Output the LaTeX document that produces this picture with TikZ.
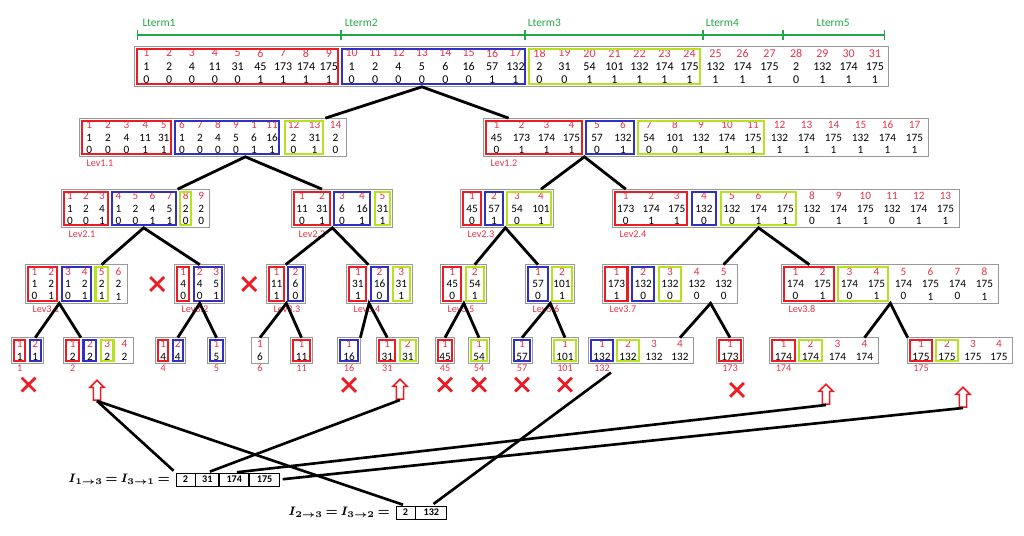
\documentclass[tikz,border=0pt]{standalone}
\usepackage{amsmath}
\usepackage{fontspec}
\setmainfont{Carlito}
\usepackage{tikz}
\usetikzlibrary{positioning,fit,shapes.arrows,shapes.misc,arrows.meta}

\definecolor{idxred}{RGB}{232,50,72}
\definecolor{boxred}{RGB}{236,28,36}
\definecolor{boxblue}{RGB}{48,48,196}
\definecolor{boxgreen}{RGB}{182,226,30}
\definecolor{termgreen}{RGB}{34,168,72}

% columns of a table: prefix, first column, left x, centre y, column width, idx/val/bit
\newcommand{\tcols}[6]{%
  \foreach \ix/\vl/\bt [count=\k from #2] in {#6}
    \node[tcell, minimum width=#5*0.02cm] (#1-\k) at ({#3+(\k-#2+0.5)*#5},#4)
      {{\color{idxred}\ix}\\\vl\\\bt};}
% columns of a leaf: idx/val only
\newcommand{\lcols}[6]{%
  \foreach \ix/\vl [count=\k from #2] in {#6}
    \node[lcell, minimum width=#5*0.02cm] (#1-\k) at ({#3+(\k-#2+0.5)*#5},#4)
      {{\color{idxred}\ix}\\\vl};}

\begin{document}
\begin{tikzpicture}[
  x=0.02cm, y=-0.02cm,
  tcell/.style={inner sep=0pt, minimum height=0.76cm, align=center, font=\fontsize{6.4}{7}\selectfont},
  lcell/.style={inner sep=0pt, minimum height=0.5cm, align=center, font=\fontsize{6.4}{7}\selectfont},
  tframe/.style={draw=gray!80, line width=0.6pt, inner sep=0pt},
  rbox/.style={draw=boxred, line width=1.2pt, inner sep=-1.5pt},
  bbox/.style={draw=boxblue, line width=1.2pt, inner sep=-1.5pt},
  gbox/.style={draw=boxgreen, line width=1.2pt, inner sep=-1.5pt},
  levlab/.style={text=idxred, font=\fontsize{5.8}{6.5}\selectfont, inner sep=1pt, anchor=north west},
  leaflab/.style={text=idxred, font=\fontsize{5.8}{6.5}\selectfont, inner sep=0.5pt},
  treeline/.style={line width=1.6pt},
  linkline/.style={line width=1.5pt, shorten >=1.5pt},
  xmark/.style={cross out, draw=boxred, line width=1.6pt, minimum size=0.22cm, inner sep=0pt},
  uparr/.style={single arrow, draw=boxred, fill=white, line width=0.9pt, shape border rotate=90,
    minimum height=0.4cm, minimum width=0.24cm, inner sep=1.6pt, single arrow head extend=2pt},
  lterm/.style={draw=termgreen, line width=0.8pt, {Bar[width=0.2cm]}-{Bar[width=0.2cm]}},
  ltlab/.style={text=termgreen, font=\fontsize{6.5}{8}\selectfont, inner sep=0pt},
  rcell/.style={draw, line width=0.5pt, inner sep=0pt, minimum height=0.26cm, font=\fontsize{5.8}{6}\selectfont\bfseries},
  eqlab/.style={font=\fontsize{7}{9}\selectfont, inner sep=0pt, anchor=east}
]
\useasboundingbox (0,0) rectangle (1024,536);

% level 0
\begin{scope}[tcell/.append style={font=\fontsize{6.8}{7.6}\selectfont, minimum height=0.8cm}]
\tcols{t}{1}{135}{66.5}{22.8}{1/1/0,2/2/0,3/4/0,4/11/0,5/31/0,6/45/1,7/173/1,8/174/1,9/175/1}
\tcols{t}{10}{340}{66.5}{23.4}{10/1/0,11/2/0,12/4/0,13/5/0,14/6/0,15/16/0,16/57/1,17/132/1}
\tcols{t}{18}{527}{66.5}{25}{18/2/0,19/31/0,20/54/1,21/101/1,22/132/1,23/174/1,24/175/1}
\tcols{t}{25}{702}{66.5}{27}{25/132/1,26/174/1,27/175/1}
\tcols{t}{28}{783}{66.5}{26.25}{28/2/0,29/132/1,30/174/1,31/175/1}
\end{scope}

\coordinate (lt0) at (137,35);
\coordinate (lt1) at (341,35);
\coordinate (lt2) at (525,35);
\coordinate (lt3) at (703,35);
\coordinate (lt4) at (783,35);
\coordinate (lt5) at (885,35);
\foreach \a/\b in {lt0/lt1,lt1/lt2,lt2/lt3,lt3/lt4,lt4/lt5}
  \draw[lterm] (\a) -- (\b);
\node[ltlab, above right=4.5pt and 3pt of lt0] (L1) {Lterm1};
\node[ltlab, above right=4.5pt and 2pt of lt1] (L2) {Lterm2};
\node[ltlab, above right=4.5pt and 1.5pt of lt2] (L3) {Lterm3};
\node[ltlab, above right=4.5pt and 1.5pt of lt3] (L4) {Lterm4};
\node[ltlab, above right=4.5pt and 19pt of lt4] (L5) {Lterm5};

% level 1
\tcols{a}{1}{80}{137.5}{18.6}{1/1/0,2/2/0,3/4/0,4/11/1,5/31/1}
\tcols{a}{6}{173}{137.5}{18}{6/1/0,7/2/0,8/4/0,9/5/0,1/6/1,11/16/1}
\tcols{a}{12}{283}{137.5}{21}{12/2/0,13/31/1,14/2/0}
\tcols{b}{1}{484}{137.5}{25}{1/45/0,2/173/1,3/174/1,4/175/1}
\tcols{b}{5}{584}{137.5}{26}{5/57/0,6/132/1}
\tcols{b}{7}{636}{137.5}{26}{7/54/0,8/101/0,9/132/1,10/174/1,11/175/1}
\tcols{b}{12}{766}{137.5}{27}{12/132/1,13/174/1,14/175/1,15/132/1,16/174/1,17/175/1}

% level 2
\tcols{c}{1}{62}{208.5}{16}{1/1/0,2/2/0,3/4/1}
\tcols{c}{4}{110}{208.5}{17}{4/1/0,5/2/0,6/4/1,7/5/1}
\tcols{c}{8}{178}{208.5}{15.5}{8/2/0,9/2/0}
\tcols{d}{1}{292}{208.5}{20}{1/11/0,2/31/1}
\tcols{d}{3}{332}{208.5}{20}{3/6/0,4/16/1}
\tcols{d}{5}{373}{208.5}{19}{5/31/1}
\tcols{e}{1}{461}{208.5}{22}{1/45/0,2/57/1}
\tcols{e}{3}{505}{208.5}{24}{3/54/0,4/101/1}
\tcols{f}{1}{613}{208.5}{25.5}{1/173/0,2/174/1,3/175/1}
\tcols{f}{4}{689.5}{208.5}{29}{4/132/0}
\tcols{f}{5}{718.5}{208.5}{26.7}{5/132/0,6/174/1,7/175/1,8/132/0,9/174/1,10/175/1,11/132/0,12/174/1,13/175/1}

% level 3
\tcols{g}{1}{26}{284}{16.8}{1/1/0,2/2/1,3/1/0,4/2/1,5/2/1,6/2/1}
\tcols{h}{1}{175}{284}{16.5}{1/4/0,2/4/0,3/5/1}
\tcols{i}{1}{267}{284}{19}{1/11/1,2/6/0}
\tcols{j}{1}{347}{284}{21.7}{1/31/1,2/16/0,3/31/1}
\tcols{k}{1}{441}{284}{22.5}{1/45/0,2/54/1}
\tcols{l}{1}{526}{284}{24}{1/57/0,2/101/1}
\tcols{m}{1}{603}{284}{26.8}{1/173/1,2/132/0,3/132/0,4/132/0,5/132/0}
\tcols{n}{1}{782}{284}{27}{1/174/0,2/175/1,3/174/0,4/175/1,5/174/0,6/175/1,7/174/0,8/175/1}

% level 4
\lcols{p1}{1}{12}{350.5}{15.5}{1/1,2/1}
\lcols{p2}{1}{64}{350.5}{17.25}{1/2,2/2,3/2,4/2}
\lcols{p4}{1}{156}{350.5}{14.5}{1/4,2/4}
\lcols{p5}{1}{208}{350.5}{17}{1/5}
\lcols{p6}{1}{252}{350.5}{16}{1/6}
\lcols{p11}{1}{291}{350.5}{21}{1/11}
\lcols{p16}{1}{338}{350.5}{22}{1/16}
\lcols{p31}{1}{377}{350.5}{20.5}{1/31,2/31}
\lcols{p45}{1}{436}{350.5}{18}{1/45}
\lcols{p54}{1}{469}{350.5}{20}{1/54}
\lcols{p57}{1}{512}{350.5}{20}{1/57}
\lcols{p101}{1}{552}{350.5}{26}{1/101}
\lcols{p132}{1}{589}{350.5}{26}{1/132,2/132,3/132,4/132}
\lcols{p173}{1}{717}{350.5}{26}{1/173}
\lcols{p174}{1}{770}{350.5}{27}{1/174,2/174,3/174,4/174}
\lcols{p175}{1}{908}{350.5}{26}{1/175,2/175,3/175,4/175}

% frames and groups
\foreach \p/\n in {t/31,a/14,b/17,c/9,d/5,e/4,f/13,g/6,h/3,i/2,j/3,k/2,l/2,m/5,n/8,
    p1/2,p2/4,p4/2,p5/1,p6/1,p11/1,p16/1,p31/2,p45/1,p54/1,p57/1,p101/1,p132/4,p173/1,p174/4,p175/4}
  \node[tframe, fit=(\p-1)(\p-\n)] (F\p) {};
\foreach \p/\i/\j in {t/1/9,a/1/5,b/1/4,c/1/3,d/1/2,e/1/1,f/1/3,g/1/2,h/1/1,i/1/1,j/1/1,k/1/1,m/1/1,n/1/2,
    p1/1/1,p2/1/1,p4/1/1,p11/1/1,p31/1/1,p45/1/1,p173/1/1,p174/1/1,p175/1/1}
  \node[rbox, fit=(\p-\i)(\p-\j)] (R\p) {};
\foreach \p/\i/\j in {t/10/17,a/6/11,b/5/6,c/4/7,d/3/4,e/2/2,f/4/4,g/3/4,h/2/3,i/2/2,j/2/2,l/1/1,m/2/2,
    p1/2/2,p2/2/2,p4/2/2,p5/1/1,p16/1/1,p57/1/1,p132/1/1}
  \node[bbox, fit=(\p-\i)(\p-\j)] (B\p) {};
\foreach \p/\i/\j in {t/18/24,a/12/13,b/7/11,c/8/8,d/5/5,e/3/4,f/5/7,g/5/5,j/3/3,k/2/2,l/2/2,m/3/3,n/3/4,
    p2/3/3,p31/2/2,p54/1/1,p101/1/1,p132/2/2,p174/2/2,p175/2/2}
  \node[gbox, fit=(\p-\i)(\p-\j)] (G\p) {};

% labels
\foreach \p/\lb in {a/Lev1.1,b/Lev1.2,c/Lev2.1,d/Lev2.2,e/Lev2.3,f/Lev2.4,
    g/Lev3.1,h/Lev3.2,i/Lev3.3,j/Lev3.4,k/Lev3.5,l/Lev3.6,m/Lev3.7,n/Lev3.8}
  \node[levlab] (lab\p) at ([xshift=3pt]F\p.south west) {\lb};
\foreach \p in {1,2,4,5,6,11,16,31,45,54,57,101,132,173,174,175}
  \node[leaflab, below=0pt of p\p-1] (q\p) {\p};

% tree
\draw[treeline] (a-13.north east) -- (t-13.south) -- (b-2.north west);
\draw[treeline] (c-8.north west) -- (a-9.south east) -- (d-2.north);
\draw[treeline] (e-4.north) -- (b-4.south east) -- (f-1.north);
\draw[treeline] (g-5.north) -- (c-6.south west) -- (h-2.north);
\draw[treeline] (i-2.north west) -- (d-2.south east) -- (j-2.north west);
\draw[treeline] (k-2.north) -- (e-2.south east) -- (l-1.north);
\draw[treeline] (m-5.north) -- (f-6.south) -- (n-1.north east);
\draw[treeline] (p1-2.north) -- (g-3.south west) -- (p2-2.north west);
\draw[treeline] (p4-2.north) -- (h-2.south) -- (p5-1.north);
\draw[treeline] (p6-1.north) -- (i-1.south east) -- (p11-1.north);
\draw[treeline] (p16-1.north east) -- (j-1.south east) -- (p31-1.north);
\draw[treeline] (p45-1.north) -- (k-1.south east) -- (p54-1.north);
\draw[treeline] (p57-1.north) -- (l-1.south east) -- (p101-1.north);
\draw[treeline] (p132-4.north) -- (m-4.south east) -- (p173-1.north);
\draw[treeline] (p174-4.north) -- (n-4.south east) -- (p175-1.north west);

% marks
\node[xmark, left=0.2cm of Fh] (xh) {};
\node[xmark, left=0.2cm of Fi] (xi) {};
\node[xmark, below=3pt of q1, xshift=5pt] (x1) {};
\foreach \p in {16,45,54,57,101}
  \node[xmark, below=3pt of q\p] (x\p) {};
\node[xmark, below=6pt of q173, xshift=4pt] (x173) {};
\node[uparr] (ar2) at (97,392) {};
\node[uparr] (ar31) at (400,391) {};
\node[uparr] (ar174) at (826,396) {};
\node[uparr] (ar175) at (963,399) {};

% intersections
\node[rcell, minimum width=0.38cm] (r1-1) at (185.5,479.5) {2};
\node[rcell, minimum width=0.46cm, right=0pt of r1-1] (r1-2) {31};
\node[rcell, minimum width=0.58cm, right=0pt of r1-2] (r1-3) {174};
\node[rcell, minimum width=0.6cm, right=0pt of r1-3] (r1-4) {175};
\node[eqlab] (eq1) at ([xshift=-3pt]r1-1.west) {$\boldsymbol{I_{1\rightarrow 3}\,{=}\,I_{3\rightarrow 1}\,{=}}$};
\node[rcell, minimum width=0.38cm] (r2-1) at (405.5,512.5) {2};
\node[rcell, minimum width=0.62cm, right=0pt of r2-1] (r2-2) {132};
\node[eqlab] (eq2) at ([xshift=-3pt]r2-1.west) {$\boldsymbol{I_{2\rightarrow 3}\,{=}\,I_{3\rightarrow 2}\,{=}}$};

\draw[linkline] (ar2.south) -- (r1-1.north west);
\draw[linkline] (ar2.south) -- (r2-1.north);
\draw[linkline] (ar31.south) -- (r1-2.north);
\draw[linkline] (ar174.south) -- (r1-3.north);
\draw[linkline] (ar175.south) -- (r1-4.east);
\draw[linkline] (q132.south east) -- (r2-2.north);
\end{tikzpicture}
\end{document}
